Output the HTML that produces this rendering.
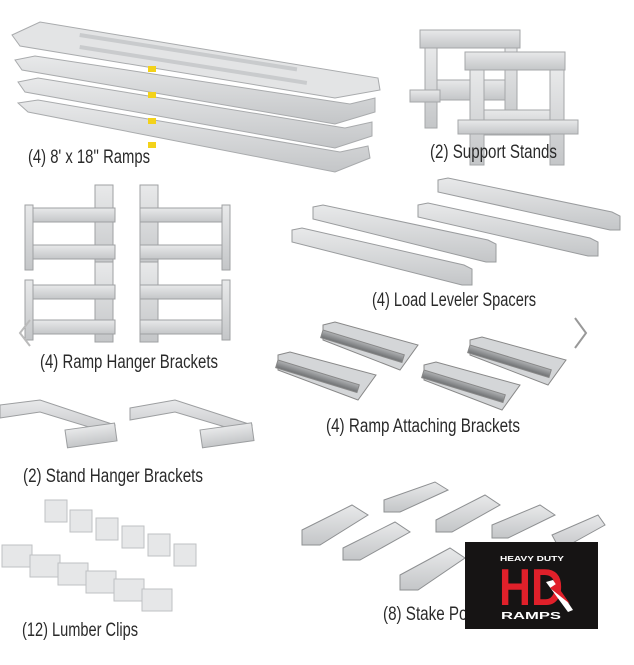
<!DOCTYPE html>
<html><head><meta charset="utf-8"><style>
html,body{margin:0;padding:0;background:#fff}
svg{display:block}
text{font-family:"Liberation Sans Narrow","Liberation Sans",sans-serif;fill:#2a2a2a;font-size:19px}
</style></head><body>
<svg width="634" height="665" viewBox="0 0 634 665" xmlns="http://www.w3.org/2000/svg">
<defs>
<linearGradient id="al" x1="0" y1="0" x2="0" y2="1"><stop offset="0" stop-color="#e8e9ea"/><stop offset="1" stop-color="#c4c6c8"/></linearGradient>
<linearGradient id="dk" x1="0" y1="0" x2="0" y2="1"><stop offset="0" stop-color="#b0b2b4"/><stop offset="1" stop-color="#6e7072"/></linearGradient>
</defs>
<!-- Ramps -->
<g stroke="#a9abad" stroke-width="1">
<polygon points="18,103 38,100 340,152 368,146 370,158 335,172 28,112" fill="url(#al)"/>
<polygon points="18,82 38,78 345,128 372,122 372,136 335,148 25,92" fill="url(#al)"/>
<polygon points="15,60 35,56 350,104 375,98 375,112 335,124 22,70" fill="url(#al)"/>
<polygon points="12,35 40,22 378,78 380,90 335,98 20,46" fill="#e3e4e5"/>
</g>
<g fill="#c9cbcd">
<rect x="80" y="33" width="220" height="4" transform="rotate(9 80 33)"/>
<rect x="80" y="45" width="230" height="4" transform="rotate(9 80 45)"/>
</g>
<g fill="#f3d21a"><rect x="148" y="66" width="8" height="6"/><rect x="148" y="92" width="8" height="6"/><rect x="148" y="118" width="8" height="6"/><rect x="148" y="142" width="8" height="6"/></g>
<!-- Support stands -->
<g fill="url(#al)" stroke="#a5a7a9">
<rect x="420" y="30" width="100" height="18"/><rect x="425" y="48" width="12" height="80"/><rect x="505" y="48" width="12" height="80"/>
<polygon points="437,80 505,80 505,100 437,100"/><rect x="410" y="90" width="30" height="12"/>
<rect x="465" y="52" width="100" height="18"/><rect x="470" y="70" width="14" height="95"/><rect x="550" y="70" width="14" height="95"/>
<polygon points="484,110 550,110 550,135 484,135"/><rect x="458" y="120" width="120" height="14"/>
</g>
<!-- Ramp hanger brackets -->
<g fill="url(#al)" stroke="#9fa1a3">
<rect x="95" y="185" width="18" height="85"/><rect x="25" y="208" width="90" height="14"/><rect x="25" y="245" width="90" height="14"/><rect x="25" y="205" width="8" height="65"/>
<rect x="140" y="185" width="18" height="85"/><rect x="140" y="208" width="90" height="14"/><rect x="140" y="245" width="90" height="14"/><rect x="222" y="205" width="8" height="65"/>
<rect x="95" y="262" width="18" height="80"/><rect x="25" y="285" width="90" height="14"/><rect x="25" y="320" width="90" height="14"/><rect x="25" y="280" width="8" height="60"/>
<rect x="140" y="262" width="18" height="80"/><rect x="140" y="285" width="90" height="14"/><rect x="140" y="320" width="90" height="14"/><rect x="222" y="280" width="8" height="60"/>
</g>
<!-- Load leveler spacers -->
<g fill="url(#al)" stroke="#9a9c9e">
<polygon points="438,180 448,178 612,212 620,216 620,230 610,230 438,192"/>
<polygon points="418,205 428,203 590,238 598,242 598,256 588,256 418,217"/>
<polygon points="313,207 323,205 488,240 496,244 496,262 486,262 313,219"/>
<polygon points="292,230 302,228 464,265 472,269 472,285 462,285 292,242"/>
</g>
<!-- Ramp attaching brackets -->
<g stroke="#888">
<polygon points="323,325 335,322 418,345 400,370 323,340" fill="#d4d6d8"/><rect x="323" y="330" width="85" height="8" fill="url(#dk)" transform="rotate(17 323 330)"/>
<polygon points="278,355 290,352 376,375 358,400 278,370" fill="#d4d6d8"/><rect x="278" y="360" width="85" height="8" fill="url(#dk)" transform="rotate(17 278 360)"/>
<polygon points="470,340 482,337 566,360 548,385 470,355" fill="#d4d6d8"/><rect x="470" y="345" width="85" height="8" fill="url(#dk)" transform="rotate(17 470 345)"/>
<polygon points="424,365 436,362 520,385 502,410 424,380" fill="#d4d6d8"/><rect x="424" y="370" width="85" height="8" fill="url(#dk)" transform="rotate(17 424 370)"/>
</g>
<!-- Stand hanger brackets -->
<g fill="url(#al)" stroke="#9c9ea0">
<polygon points="0,405 40,400 115,425 115,435 40,412 0,418"/><rect x="65" y="430" width="50" height="18" transform="rotate(-8 65 430)"/>
<polygon points="130,408 175,400 252,425 252,435 175,412 130,420"/><rect x="200" y="430" width="52" height="18" transform="rotate(-8 200 430)"/>
</g>
<!-- Lumber clips -->
<g fill="#e6e7e8" stroke="#bfc1c3">
<rect x="45" y="500" width="22" height="22"/><rect x="70" y="510" width="22" height="22"/><rect x="96" y="518" width="22" height="22"/><rect x="122" y="526" width="22" height="22"/><rect x="148" y="534" width="22" height="22"/><rect x="174" y="544" width="22" height="22"/>
<rect x="2" y="545" width="30" height="22"/><rect x="30" y="555" width="30" height="22"/><rect x="58" y="563" width="30" height="22"/><rect x="86" y="571" width="30" height="22"/><rect x="114" y="579" width="30" height="22"/><rect x="142" y="589" width="30" height="22"/>
</g>
<!-- Stake pockets -->
<g fill="url(#al)" stroke="#8e9092">
<polygon points="302,530 352,505 368,515 320,545 302,545"/><polygon points="384,500 435,482 448,490 400,512 384,512"/>
<polygon points="436,520 485,495 500,505 452,532 436,532"/><polygon points="343,548 395,522 410,532 360,560 343,560"/>
<polygon points="492,525 540,505 555,515 508,538 492,538"/><polygon points="400,575 450,548 465,558 418,590 400,590"/>
<polygon points="552,535 598,515 605,525 560,550"/>
</g>
<!-- chevrons -->
<polyline points="30,320 20,333 30,346" fill="none" stroke="#bbb" stroke-width="2"/>
<polyline points="575,318 586,333 575,348" fill="none" stroke="#999" stroke-width="2"/>
<!-- labels -->
<text x="28" y="163" textLength="122" lengthAdjust="spacingAndGlyphs">(4) 8' x 18'' Ramps</text>
<text x="430" y="158" textLength="127" lengthAdjust="spacingAndGlyphs">(2) Support Stands</text>
<text x="372" y="306" textLength="164" lengthAdjust="spacingAndGlyphs">(4) Load Leveler Spacers</text>
<text x="40" y="368" textLength="178" lengthAdjust="spacingAndGlyphs">(4) Ramp Hanger Brackets</text>
<text x="326" y="432" textLength="194" lengthAdjust="spacingAndGlyphs">(4) Ramp Attaching Brackets</text>
<text x="23" y="482" textLength="180" lengthAdjust="spacingAndGlyphs">(2) Stand Hanger Brackets</text>
<text x="22" y="636" textLength="116" lengthAdjust="spacingAndGlyphs">(12) Lumber Clips</text>
<text x="383" y="620" textLength="120" lengthAdjust="spacingAndGlyphs">(8) Stake Pockets</text>
<!-- logo -->
<rect x="465" y="542" width="133" height="87" fill="#161414"/>
<text x="500" y="561" style="font-family:'Liberation Sans',sans-serif;font-weight:bold;font-size:7.5px;fill:#fff" textLength="64" lengthAdjust="spacingAndGlyphs">HEAVY DUTY</text>
<text x="499" y="605" style="font-family:'Liberation Sans',sans-serif;font-weight:bold;font-size:52px;fill:#e0202a" textLength="64" lengthAdjust="spacingAndGlyphs">HD</text>
<polygon points="546,582 553,580 573,610 568,612" fill="#fff"/>
<polygon points="550,588 556,584 570,604" fill="#e0202a"/>
<text x="501" y="619" style="font-family:'Liberation Sans',sans-serif;font-weight:bold;font-size:10px;fill:#fff" textLength="60" lengthAdjust="spacingAndGlyphs">RAMPS</text>
</svg>
</body></html>
